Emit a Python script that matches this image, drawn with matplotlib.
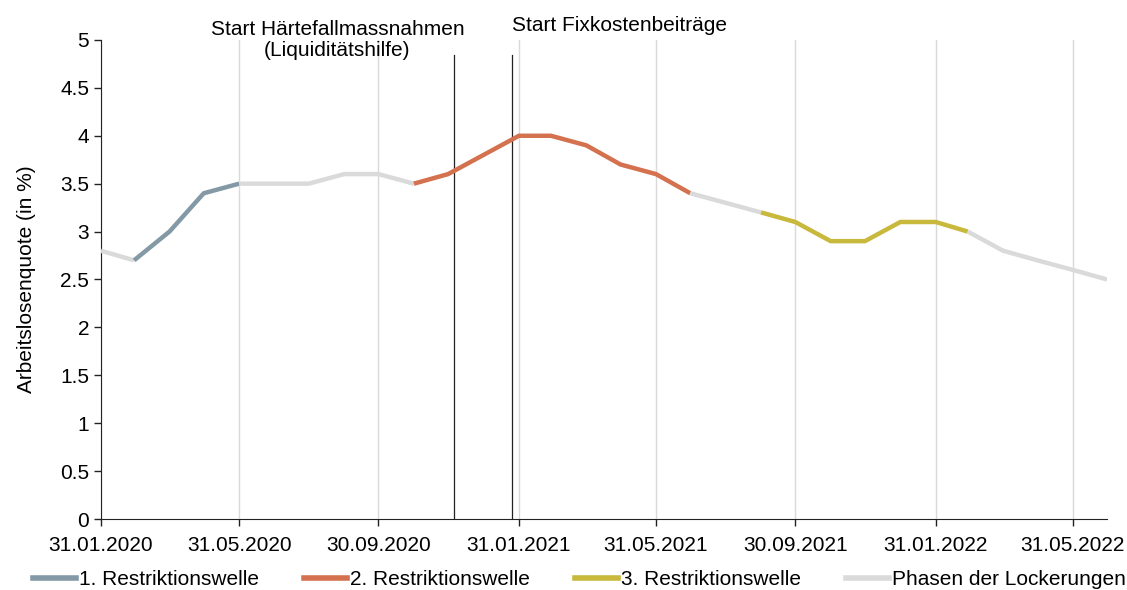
import pandas as pd
import matplotlib
matplotlib.use("Agg")
import matplotlib.pyplot as plt
import matplotlib.dates as mdates

plt.rcParams["font.family"] = ["Liberation Sans", "DejaVu Sans"]

# monthly unemployment rate, month-end dates
dates = pd.date_range("2020-01-31", "2022-06-30", freq="ME")
quote = [2.8, 2.7, 3.0, 3.4, 3.5, 3.5, 3.5, 3.6, 3.6, 3.5, 3.6, 3.8,
         4.0, 4.0, 3.9, 3.7, 3.6, 3.4, 3.3, 3.2, 3.1, 2.9, 2.9, 3.1,
         3.1, 3.0, 2.8, 2.7, 2.6, 2.5]

# phases: (legend key, first month, last month)
phases = [
    ("lock", "2020-01-31", "2020-02-29"),
    ("r1", "2020-02-29", "2020-05-31"),
    ("lock", "2020-05-31", "2020-10-31"),
    ("r2", "2020-10-31", "2021-06-30"),
    ("lock", "2021-06-30", "2021-08-31"),
    ("r3", "2021-08-31", "2022-02-28"),
    ("lock", "2022-02-28", "2022-06-30"),
]
phase_labels = {
    "r1": "1. Restriktionswelle",
    "r2": "2. Restriktionswelle",
    "r3": "3. Restriktionswelle",
    "lock": "Phasen der Lockerungen",
}
phase_colors = {"r1": "#8499A6", "r2": "#D4714F", "r3": "#C8B83B", "lock": "#DADADA"}

events = [("2020-12-05", "Start Härtefallmassnahmen\n(Liquiditätshilfe)"),
          ("2021-01-25", "Start Fixkostenbeiträge")]
tick_dates = pd.to_datetime(["2020-01-31", "2020-05-31", "2020-09-30", "2021-01-31",
                             "2021-05-31", "2021-09-30", "2022-01-31", "2022-05-31"])

s = pd.Series(quote, index=dates)
FS = 15

fig = plt.figure(figsize=(11.27, 5.9), dpi=100)
ax = fig.add_axes([0.0896, 0.1203, 0.8927, 0.8120])

for key, a, b in phases:
    seg = s[a:b]
    ax.plot(seg.index, seg.values, color=phase_colors[key], lw=3.2,
            solid_capstyle="butt", solid_joinstyle="round", zorder=3)

for d, _ in events:
    ax.plot([pd.Timestamp(d)] * 2, [0, 4.84], color="#222222", lw=0.9, zorder=2)

ax.text(pd.Timestamp("2020-08-25"), 4.79, events[0][1], ha="center", va="bottom",
        fontsize=FS, linespacing=1.15, clip_on=False)
ax.text(pd.Timestamp(events[1][0]), 5.05, events[1][1], ha="left", va="bottom",
        fontsize=FS, clip_on=False)

ax.set_xlim(pd.Timestamp("2020-01-31"), pd.Timestamp("2022-06-30"))
ax.set_ylim(0, 5)
ax.set_yticks([0, 0.5, 1, 1.5, 2, 2.5, 3, 3.5, 4, 4.5, 5])
ax.set_yticklabels(["0", "0.5", "1", "1.5", "2", "2.5", "3", "3.5", "4", "4.5", "5"])
ax.set_xticks(tick_dates)
ax.xaxis.set_major_formatter(mdates.DateFormatter("%d.%m.%Y"))
ax.grid(axis="x", color="#D9D9D9", lw=1)
ax.set_axisbelow(True)
for side in ["top", "right"]:
    ax.spines[side].set_visible(False)
for side in ["left", "bottom"]:
    ax.spines[side].set_color("#222222")
ax.tick_params(labelsize=FS, length=5, color="#222222", width=1)
ax.tick_params(axis="x", pad=7)
ax.set_ylabel("Arbeitslosenquote (in %)", fontsize=FS, labelpad=17)

handles = [plt.Line2D([], [], color=phase_colors[k], lw=4) for k in ["r1", "r2", "r3", "lock"]]
fig.legend(handles, [phase_labels[k] for k in ["r1", "r2", "r3", "lock"]],
           loc="center", bbox_to_anchor=(0.514, 0.018), ncol=4, frameon=False,
           fontsize=FS, handlelength=2.07, handletextpad=0.15, columnspacing=2.15,
           borderaxespad=0, borderpad=0)

fig.savefig("out.png", dpi=100)
